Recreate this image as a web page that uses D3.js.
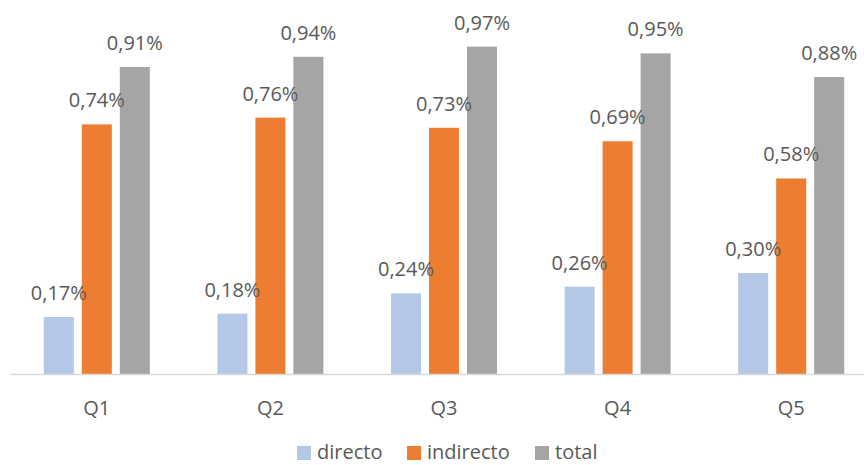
<!DOCTYPE html>
<html><head><meta charset="utf-8">
<script src="https://cdn.jsdelivr.net/npm/d3@7"></script>
<style>body{margin:0;background:#fff}svg{display:block}</style>
</head><body>
<script>
const categories = ["Q1","Q2","Q3","Q4","Q5"];
const seriesNames = ["directo","indirecto","total"];
const directo = [0.17,0.18,0.24,0.26,0.30];
const indirecto = [0.74,0.76,0.73,0.69,0.58];
const total = [0.91,0.94,0.97,0.95,0.88];
const colors = ["#B4C7E7","#ED7D31","#A5A5A5"];
const values = [directo, indirecto, total];

const W = 864, H = 465;
const svg = d3.select("body").append("svg").attr("width",W).attr("height",H);
const font = "'Open Sans', sans-serif";
const txt = "#595959";

const x0 = d3.scaleBand().domain(categories).range([10,878]).padding(0);
const x1 = d3.scaleBand().domain(seriesNames).range([-53,53]).paddingInner(0.21).paddingOuter(0);
const y = d3.scaleLinear().domain([0,1.1]).range([374.5,2.7]);

const data = [];
categories.forEach((c,i)=>seriesNames.forEach((s,j)=>data.push({c,s,v:values[j][i],col:colors[j]})));

const cx = d => x0(d.c)+x0.bandwidth()/2 + x1(d.s);

svg.append("g").selectAll("rect").data(data).join("rect")
  .attr("x", d=>cx(d))
  .attr("y", d=>y(d.v))
  .attr("width", x1.bandwidth())
  .attr("height", d=>y(0)-y(d.v))
  .attr("fill", d=>d.col);

// axis line
const xAxis = d3.axisBottom(x0).tickSize(0).tickPadding(22);
const gx = svg.append("g").attr("transform",`translate(0,${y(0)})`).call(xAxis);
gx.select(".domain").attr("stroke","#D9D9D9").attr("stroke-width",1.5).attr("d","M10,0H864");
gx.selectAll("text").attr("font-family",font).attr("font-size",20).attr("fill",txt).attr("dy","0.9em");

svg.append("g").selectAll("text").data(data).join("text")
  .attr("x", d=>cx(d)+x1.bandwidth()/2)
  .attr("y", d=>y(d.v)-17)
  .attr("text-anchor","middle")
  .attr("font-family",font).attr("font-size",20).attr("fill",txt)
  .text(d=>d3.format(".2f")(d.v).replace(".",",")+"%");

// legend
const legX = [297,407,535];
const lg = svg.append("g").selectAll("g").data(seriesNames).join("g")
  .attr("transform",(d,i)=>`translate(${legX[i]},446)`);
lg.append("rect").attr("width",14).attr("height",14).attr("fill",(d,i)=>colors[i]);
lg.append("text").attr("x",20).attr("y",13).attr("font-family",font).attr("font-size",20).attr("fill",txt).text(d=>d);
</script>
</body></html>
